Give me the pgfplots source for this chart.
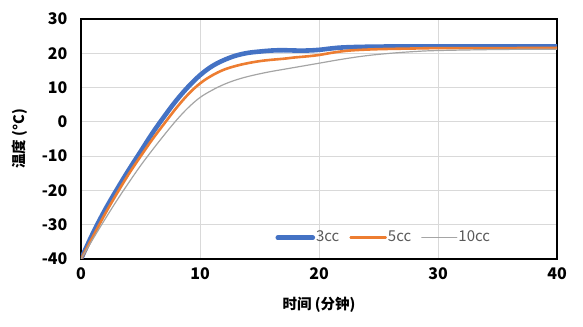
\documentclass[border=0pt]{standalone}
\usepackage{fontspec}
\setmainfont{Noto Sans CJK SC}
\usepackage{pgfplots}
\pgfplotsset{compat=1.18}
\definecolor{cblue}{HTML}{4472C4}
\definecolor{corange}{HTML}{ED7D31}
\definecolor{cgray}{HTML}{A5A5A5}
\definecolor{ctext}{HTML}{595959}
\begin{document}
\begin{tikzpicture}[font=\fontsize{15bp}{17bp}\selectfont]
\begin{axis}[
  scale only axis, width=476bp, height=240bp,
  xmin=0, xmax=40, ymin=-40, ymax=30,
  xtick={0,10,...,40}, ytick={-40,-30,...,30},
  grid=major, major grid style={draw=black!15, line width=0.8bp},
  axis line style={black, line width=1.2bp},
  tick style={draw=none},
  /pgf/number format/assume math mode=true,
  ticklabel style={font=\fontsize{16bp}{18bp}\selectfont\bfseries},
  yticklabel style={xshift=-10bp},
  xticklabel style={yshift=-5bp},
  xlabel={时间 (分钟)}, ylabel={温度 (°C)},
  label style={font=\fontsize{14.5bp}{16bp}\selectfont\bfseries},
  xlabel style={at={(axis description cs:0.5,-0.19)}, anchor=center},
  ylabel style={at={(axis description cs:-0.128,0.5)}, anchor=center},
  legend columns=3,
  legend style={at={(axis cs:25.4,-33.8)}, anchor=center, draw=none, fill=none,
    font=\fontsize{15bp}{17bp}\selectfont, text=ctext,
    /tikz/every even column/.append style={column sep=9bp},
    nodes={inner xsep=1bp, text height=11bp, text depth=3bp}},
  legend image code/.code={\draw[#1, line cap=round] (0bp,0bp) -- (35bp,0bp);},
  every axis plot/.append style={smooth, tension=0.6, line cap=round, line join=round},
]
\addplot[cblue, line width=4.6bp] coordinates {
(0,-40) (1,-32.5) (2,-25.8) (3,-19.8) (4,-14.1) (5,-8.7) (6,-3.3) (7,1.6) (8,6.2)
(9,10.2) (10,13.6) (11,16.2) (12,18.0) (13,19.3) (14,20.1) (15,20.5) (16,20.8)
(17,20.9) (18,20.8) (19,20.8) (20,21.0) (21,21.4) (22,21.7) (24,21.9) (27,22.0)
(30,22.0) (35,22.0) (40,22.0)};
\addlegendentry{3cc}
\addplot[corange, line width=2.6bp] coordinates {
(0,-40) (1,-33.5) (2,-27) (3,-21) (4,-15.3) (5,-10.1) (6,-5.1) (7,-0.5) (8,4.0)
(9,8.0) (10,11.2) (11,13.5) (12,15.2) (13,16.3) (14,17.1) (15,17.7) (16,18.1)
(17,18.4) (18,18.8) (19,19.1) (20,19.5) (21,20.1) (22,20.6) (23,20.9) (25,21.2)
(28,21.4) (30,21.5) (35,21.5) (40,21.6)};
\addlegendentry{5cc}
\addplot[cgray, line width=1.2bp] coordinates {
(0,-40) (1,-34.2) (2,-28.5) (3,-23) (4,-17.8) (5,-12.8) (6,-8.2) (7,-3.8) (8,0.4)
(9,4.1) (10,7.1) (11,9.2) (12,10.9) (13,12.2) (14,13.2) (15,14.0) (16,14.7)
(17,15.3) (18,15.9) (19,16.5) (20,17.1) (22,18.3) (24,19.3) (26,20.0) (28,20.5)
(30,20.8) (35,21.1) (40,21.2)};
\addlegendentry{10cc}
\end{axis}
\pgfresetboundingbox
\path ([shift={(-81bp,-68bp)}]current axis.south west) rectangle ([shift={(26bp,19bp)}]current axis.north east);
\end{tikzpicture}
\end{document}
